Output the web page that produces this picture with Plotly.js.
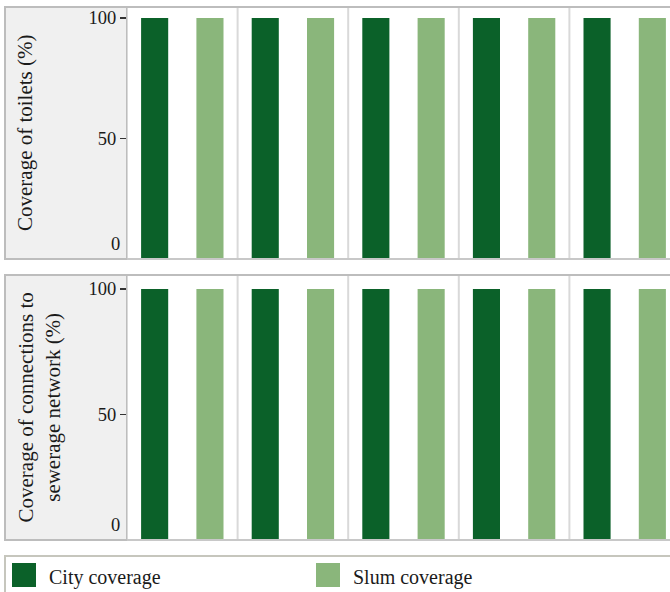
<!DOCTYPE html>
<html>
<head>
<meta charset="utf-8">
<script src="https://cdn.plot.ly/plotly-3.0.1.min.js"></script>
<style>html,body{margin:0;padding:0;background:#fff;}#chart{width:670px;height:592px;}</style>
</head>
<body>
<div id="chart"></div>
<script>
// ---- data ----
var facets = ["1", "2", "3", "4", "5"];
var seriesNames = ["City coverage", "Slum coverage"];
var toiletsCity = [100, 100, 100, 100, 100];
var toiletsSlum = [100, 100, 100, 100, 100];
var sewerCity = [100, 100, 100, 100, 100];
var sewerSlum = [100, 100, 100, 100, 100];
var panelTitles = ["Coverage of toilets (%)", "Coverage of connections to<br>sewerage network (%)"];
var tickVals = [50, 100];
var tickText = ["50", "100"];
var zeroLabel = "0";

// ---- styling ----
var W = 670, H = 592;
var FONT = "Liberation Serif, Times New Roman, serif";
var colCity = "#0b6129";
var colSlum = "#8ab67b";
function px(x) { return x / W; }
function py(y) { return 1 - y / H; }

var cats = [];
facets.forEach(function (f) { cats.push(f + "|City"); cats.push(f + "|Slum"); });
var cityX = facets.map(function (f) { return f + "|City"; });
var slumX = facets.map(function (f) { return f + "|Slum"; });

var panels = [
  {top: 7, bottom: 259, hundred: 18},
  {top: 275, bottom: 540, hundred: 289}
];

function bar(x, y, color, name, xa, ya) {
  return {type: "bar", x: x, y: y, name: name, xaxis: xa, yaxis: ya,
    marker: {color: color, line: {width: 0}}, width: 0.49, showlegend: false,
    hoverinfo: "x+y"};
}
var data = [
  bar(cityX, toiletsCity, colCity, seriesNames[0], "x", "y"),
  bar(slumX, toiletsSlum, colSlum, seriesNames[1], "x", "y"),
  bar(cityX, sewerCity, colCity, seriesNames[0], "x2", "y2"),
  bar(slumX, sewerSlum, colSlum, seriesNames[1], "x2", "y2")
];

var xRange = [-0.5, -0.5 + (W - 127) / 55.3];
function xaxis(anchor) {
  return {domain: [px(127), 1], type: "category", categoryorder: "array", categoryarray: cats,
    range: xRange, showticklabels: false, ticks: "", showgrid: false, zeroline: false,
    showline: false, anchor: anchor, fixedrange: true};
}
function yaxis(p, anchor) {
  var top = 100 * (p.bottom - p.top) / (p.bottom - p.hundred);
  return {domain: [py(p.bottom), py(p.top)], range: [0, top], tickvals: tickVals, ticktext: tickText,
    ticks: "outside", ticklen: 6, tickwidth: 1.2, tickcolor: "#333", showgrid: false,
    zeroline: false, showline: false, anchor: anchor,
    tickfont: {family: FONT, size: 18.5, color: "#1a1a1a"}, fixedrange: true};
}

var shapes = [], annotations = [];
var lineCol = "#bdbdbd";
panels.forEach(function (p, i) {
  var xr = i === 0 ? "x" : "x2";
  var yr = i === 0 ? "y" : "y2";
  shapes.push({type: "rect", xref: "paper", yref: "paper", x0: px(5), x1: px(127),
    y0: py(p.bottom), y1: py(p.top), fillcolor: "#f0f0f0", line: {color: lineCol, width: 2}, layer: "below"});
  shapes.push({type: "line", xref: "paper", yref: "paper", x0: px(5), x1: 1.01,
    y0: py(p.top), y1: py(p.top), line: {color: lineCol, width: 2}});
  shapes.push({type: "line", xref: "paper", yref: "paper", x0: px(127), x1: 1.01,
    y0: py(p.bottom), y1: py(p.bottom), line: {color: "#c8c8c8", width: 2}});
  for (var k = 0; k <= facets.length; k++) {
    shapes.push({type: "line", xref: xr, yref: "paper", x0: 2 * k - 0.5, x1: 2 * k - 0.5,
      y0: py(p.bottom), y1: py(p.top), line: {color: "#d9d9d9", width: 2}, layer: "below"});
  }
  annotations.push({xref: "paper", yref: "paper", x: px(i === 0 ? 25 : 39), y: py((p.top + p.bottom) / 2),
    text: panelTitles[i], textangle: -90, showarrow: false, xanchor: "center", yanchor: "middle",
    font: {family: FONT, size: 21, color: "#1a1a1a"}});
  annotations.push({xref: "paper", yref: yr, x: px(122), y: 0, text: zeroLabel, showarrow: false,
    xanchor: "right", yanchor: "bottom", yshift: 3, font: {family: FONT, size: 18.5, color: "#1a1a1a"}});
});

shapes.push({type: "rect", xref: "paper", yref: "paper", x0: px(5), x1: px(680), y0: py(600), y1: py(556),
  fillcolor: "#fff", line: {color: "#c6c6bd", width: 2}});
var legItems = [{x: 12, color: colCity, name: seriesNames[0]}, {x: 316, color: colSlum, name: seriesNames[1]}];
legItems.forEach(function (it) {
  shapes.push({type: "rect", xref: "paper", yref: "paper", x0: px(it.x), x1: px(it.x + 24),
    y0: py(587), y1: py(563), fillcolor: it.color, line: {width: 0}});
  annotations.push({xref: "paper", yref: "paper", x: px(it.x + 35), y: py(577), text: it.name,
    showarrow: false, xanchor: "left", yanchor: "middle", font: {family: FONT, size: 20, color: "#1a1a1a"}});
});

var layout = {
  width: W, height: H, autosize: false,
  margin: {l: 0, r: 0, t: 0, b: 0, pad: 0},
  paper_bgcolor: "#fff", plot_bgcolor: "rgba(0,0,0,0)",
  barmode: "overlay", showlegend: false,
  xaxis: xaxis("y"), xaxis2: xaxis("y2"),
  yaxis: yaxis(panels[0], "x"), yaxis2: yaxis(panels[1], "x2"),
  shapes: shapes, annotations: annotations,
  font: {family: FONT}
};
Plotly.newPlot("chart", data, layout, {displayModeBar: false, staticPlot: true});
</script>
</body>
</html>
